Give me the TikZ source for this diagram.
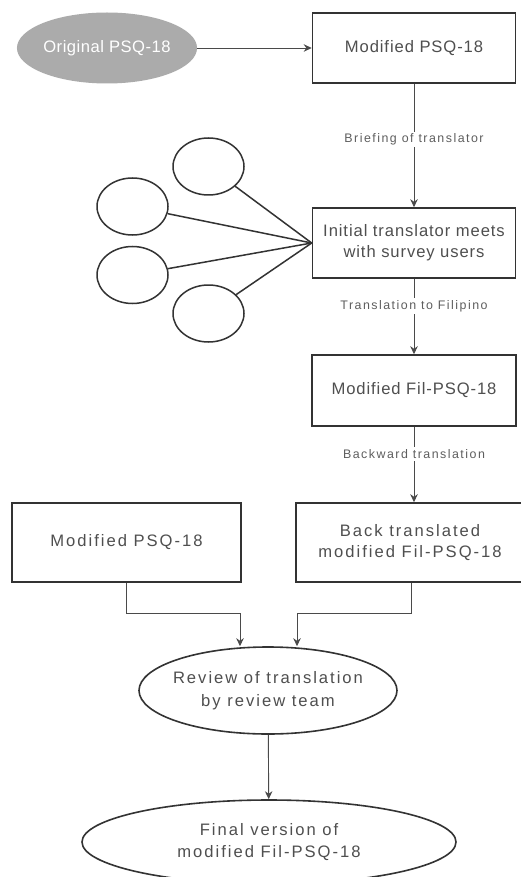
\documentclass[tikz,border=0pt]{standalone}
\usepackage{fontspec}
\setmainfont{Liberation Sans}
\newfontfamily\boxfont[LetterSpace=5.5]{Liberation Sans}
\newfontfamily\widefont[LetterSpace=12]{Liberation Sans}
\newfontfamily\origfont[LetterSpace=3]{Liberation Sans}
\newfontfamily\labelfont[LetterSpace=12]{Liberation Sans}
\usetikzlibrary{shapes.geometric,arrows.meta}
\definecolor{txt}{HTML}{4F4F4F}
\definecolor{lbltxt}{HTML}{5E5E5E}
\definecolor{edge}{HTML}{333333}
\definecolor{conncol}{HTML}{4A4A4A}
\definecolor{grayfill}{HTML}{ABABAB}
\tikzset{
  stepbox/.style={font=\boxfont\fontsize{16.6}{21}\selectfont, text=txt, align=center,
                  draw=edge, line width=1.6pt, inner sep=0pt},
  widebox/.style={stepbox, font=\widefont\fontsize{16.6}{21}\selectfont},
  ovalbox/.style={font=\widefont\fontsize{16.6}{22.5}\selectfont, text=txt, align=center,
                  ellipse, draw=edge, line width=1.6pt, inner xsep=-30pt, inner ysep=0pt},
  person/.style={ellipse, draw=edge, line width=1.5pt, minimum width=71pt, minimum height=57pt, inner sep=0pt},
  conn/.style={draw=conncol, line width=0.9pt, -{Stealth[length=8pt,width=7.5pt]}},
  lbl/.style={fill=white, font=\labelfont\fontsize{12.4}{14}\selectfont, text=lbltxt, inner sep=2pt},
}
\begin{document}
\begin{tikzpicture}[x=1pt,y=-1pt]
\useasboundingbox (0,0) rectangle (521,877);
\clip (0,0) rectangle (521,877);
\fill[white] (0,0) rectangle (521,877);
% nodes
\node[ellipse, fill=grayfill, minimum width=174pt, minimum height=71pt, inner sep=0pt,
      font=\origfont\fontsize{16.6}{21}\selectfont, text=white] (orig) at (107,48) {Original PSQ-18};
\node[stepbox, minimum width=203pt, minimum height=70pt] (mod1) at (414,48) {Modified PSQ-18};
\node[stepbox, minimum width=203pt, minimum height=70pt] (init) at (414,243) {Initial translator meets\\with survey users};
\node[stepbox, minimum width=204pt, minimum height=71pt] (fil) at (414,390.5) {Modified Fil-PSQ-18};
\node[widebox, minimum width=228pt, minimum height=79pt] (back) at (410,542.5) {Back translated\\modified Fil-PSQ-18};
\node[widebox, minimum width=229pt, minimum height=79pt] (lmod) at (126.5,542.5) {Modified PSQ-18};
\node[ovalbox, minimum width=258pt, minimum height=87pt] (review) at (268,690.5) {Review of translation\\by review team};
\node[ovalbox, minimum width=374pt, minimum height=84pt] (final) at (269,842) {Final version of\\modified Fil-PSQ-18};
% surrounding circles
\node[person] (c1) at (208.5,166.5) {};
\node[person] (c2) at (132.5,206.5) {};
\node[person] (c3) at (132.5,275) {};
\node[person] (c4) at (208.5,313.5) {};
% connectors
\draw[conn] (orig) -- (mod1);
\draw[conn] (mod1) -- node[lbl, pos=0.45] {Briefing of translator} (init);
\draw[conn] (init) -- node[lbl, pos=0.36] {Translation to Filipino} (fil);
\draw[conn] (fil.south) -- node[lbl, pos=0.36] {Backward translation} (fil.south |- back.north);
\foreach \c in {c1,c2,c3,c4} \draw[edge, line width=1.5pt] (\c) -- (init.west);
\coordinate (jl) at (240,613);
\coordinate (jr) at (297,613);
\draw[conn] (lmod.south) |- (jl) -- (review.north -| jl);
\draw[conn] (back.south -| 411,0) |- (jr) -- (review.north -| jr);
\draw[conn] (review) -- (final);
\end{tikzpicture}
\end{document}
